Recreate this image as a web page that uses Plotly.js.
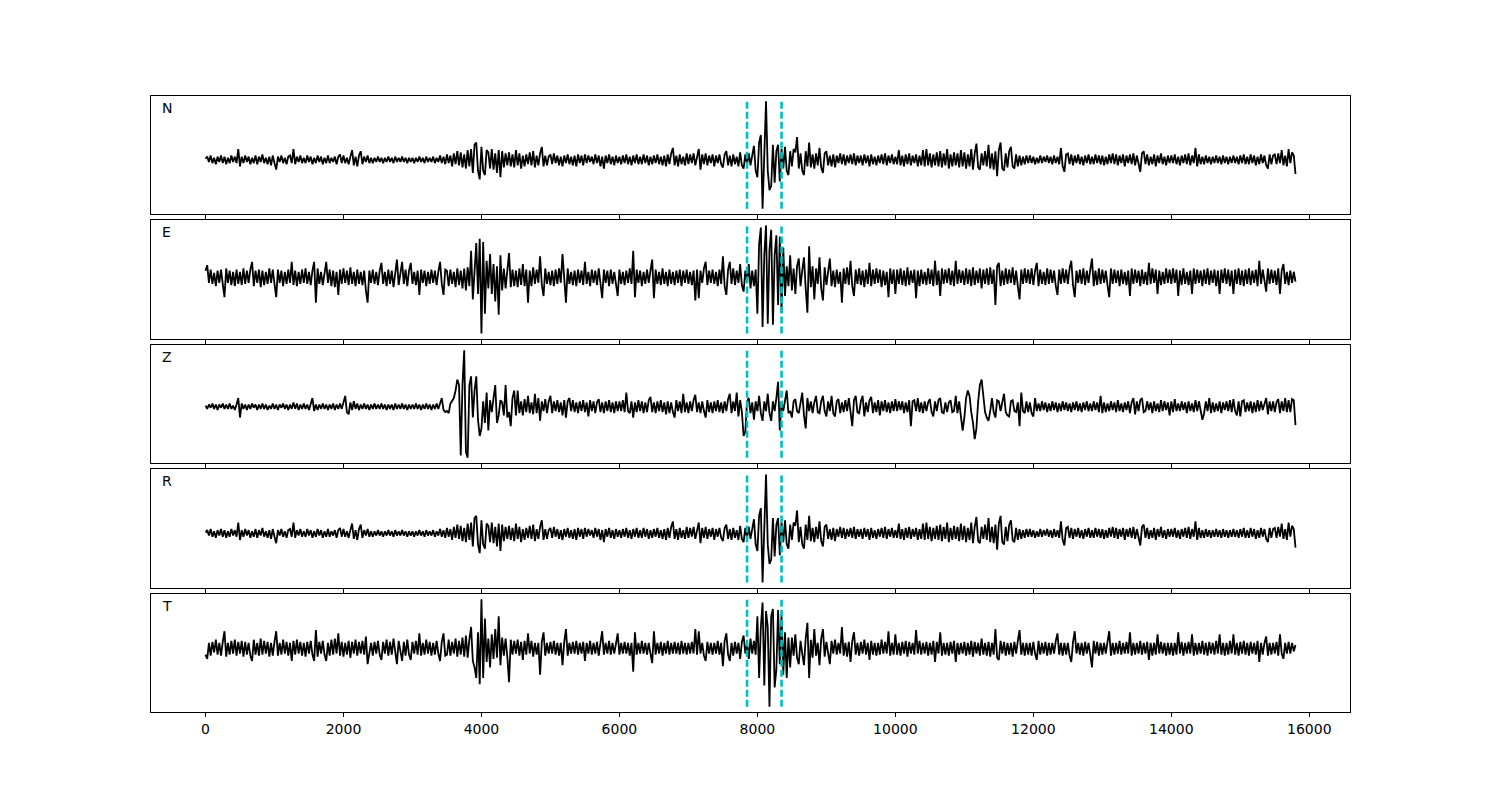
<!DOCTYPE html>
<html>
<head>
<meta charset="utf-8">
<script src="https://cdn.plot.ly/plotly-3.0.1.min.js"></script>
<style>body{margin:0;background:#fff}#chart{width:1500px;height:800px}</style>
</head>
<body>
<div id="chart"></div>
<script>
// sample interval of the traces (time units) and first sample time
const t0 = 0;
const dt = 25;

// component labels (top to bottom)
const components = ["N", "E", "Z", "R", "T"];

// picked arrival times (dashed cyan lines)
const picks = [7850, 8350];

// x-axis tick values
const tickValues = [0, 2000, 4000, 6000, 8000, 10000, 12000, 14000, 16000];

// trace amplitudes (relative units), one value every dt
// (each row = 500 time units)
const traceN = [
 1,3,-2,4,-3,2,-4,3,-2,4,-3,3,-4,2,-3,4,-2,3,-3,10,
 -6,3,-3,4,-2,3,-4,2,-3,4,-4,3,-2,5,-3,2,-4,3,-5,4,
 -3,-9,3,-2,4,-3,2,-4,3,4,-3,10,-4,3,-2,4,-3,2,-3,4,
 -2,3,-4,2,-3,4,-2,3,-4,2,-3,4,-3,2,-2,3,-4,3,5,-3,
 4,-3,2,-4,3,9,-5,3,-6,4,8,-4,3,-2,4,-3,2,-3,2,-2,
 3,-2,2,-3,2,-2,3,-2,2,-3,3,-2,2,-2,3,-2,2,-3,2,-2,
 2,-3,2,-2,3,-2,2,-3,3,-2,2,-2,3,-3,2,-2,4,-3,3,-4,
 5,-3,4,-6,6,-4,8,-5,7,-7,5,-8,9,-6,10,-12,14,16,-10,-18,
 12,-10,-14,9,7,-8,10,-9,6,-12,9,-16,8,-7,6,-5,7,-6,5,-7,
 9,-5,6,-8,4,-6,5,-4,7,-5,8,-7,4,-5,6,12,-6,4,-5,3,
 5,-4,6,-3,4,-5,3,-6,4,-3,5,-4,3,-5,4,-6,5,-3,4,-5,
 5,-3,4,-2,3,-4,5,-3,4,-6,3,-8,4,-3,5,-4,3,-5,4,-3,
 3,-4,4,-3,5,-4,3,-5,4,-3,5,-4,3,-4,5,-3,4,-5,3,-4,
 4,-3,5,-4,3,-5,4,-6,5,-4,6,11,-5,4,-6,5,-4,3,-5,6,
 -4,5,-3,6,-5,4,10,-9,5,-4,6,-5,4,-3,5,-6,4,-3,5,-4,
 -7,5,8,-5,4,-6,5,-4,3,-6,7,-5,-8,5,-4,6,-5,4,13,-10,
 -16,16,23,-45,12,54,-10,-28,-24,14,-21,8,14,-20,10,-8,12,-10,-14,8,
 -6,10,7,21,-8,6,-10,-14,8,-6,16,-7,5,-8,6,-5,11,-7,-12,6,
 8,-5,4,-6,5,-7,4,-3,6,-4,5,-5,4,-3,5,-4,6,-5,4,-3,
 4,-5,5,-3,4,-6,5,-4,3,-5,4,-3,5,-4,6,-5,4,-3,5,-4,
 3,-4,9,-5,4,-6,5,-4,6,-5,4,-3,5,-6,4,-5,9,-6,10,-5,
 6,-7,5,-5,7,-6,8,-7,6,-5,10,-8,5,-6,7,-5,6,-7,9,-6,
 7,-8,5,-6,10,-9,6,15,-7,-9,6,-5,8,-6,14,-8,6,-9,8,-15,
 9,16,-8,-10,6,-7,8,12,-6,-8,5,-6,4,-5,3,-4,4,-3,4,-3,
 3,-4,2,-3,4,-3,3,-2,4,-3,3,-4,4,-3,3,-4,11,-6,-11,5,
 6,-4,5,-5,4,-3,5,-4,3,-5,4,-3,5,-4,3,-4,5,-3,4,-4,
 4,-5,3,-4,5,-3,6,-4,5,-5,4,-3,5,-6,4,-3,5,-4,6,-5,
 4,-5,-11,6,8,-4,5,-5,3,-4,5,-6,4,-3,6,-4,3,-5,4,-3,
 4,-3,5,-4,3,-5,4,-3,5,-4,6,-5,4,-3,11,-6,5,-4,3,-4,
 4,-3,3,-4,3,-3,4,-3,3,-4,4,-3,3,-4,3,-3,4,-3,3,-4,
 4,-3,5,-4,3,-4,5,-3,4,-5,3,-4,5,-3,4,-5,-8,5,-4,4,
 5,-4,6,-3,9,-5,4,-6,10,-3,7,4,-13
];

const traceE = [
 6,11,-5,7,-6,4,-8,6,-5,7,-6,-18,8,-5,6,-7,5,-8,7,-6,
 5,-7,8,-6,6,-5,7,14,-8,6,-5,7,-9,6,-7,5,-6,8,-5,7,
 -6,-18,7,-5,6,-8,5,-6,7,-5,14,-7,6,-8,5,-6,7,-5,8,-6,
 5,-7,6,14,-23,8,-6,5,-7,6,14,-5,7,-8,6,-9,5,-16,7,-6,
 8,-5,6,-7,9,-6,5,-8,7,-6,5,-7,6,-12,-23,6,-5,7,-6,5,
 -7,6,13,-6,5,-8,7,-6,6,-9,6,16,-7,5,14,-6,7,-8,6,13,
 -6,5,-7,6,-16,7,-5,6,-8,5,-6,7,-5,6,-7,5,14,-6,-16,7,
 6,-8,7,-6,5,-9,8,-7,6,-10,8,-12,9,-8,24,-20,12,31,-15,35,
 -51,32,-33,15,-10,21,-15,12,-22,10,-34,20,-12,8,-10,9,22,-9,7,-8,
 6,-9,8,-7,12,-8,7,-23,6,-8,9,-6,7,-5,19,-7,-17,8,-6,5,
 -7,6,-8,7,-6,8,-5,21,-7,-23,8,-6,5,-7,6,-8,7,-5,6,-7,
 14,-6,5,-8,7,-5,6,-7,8,-6,-19,7,-5,6,-8,7,-6,5,-7,-17,
 7,-6,5,-7,6,-5,8,-6,24,-18,7,-5,6,-8,5,-6,7,-5,6,16,
 -19,7,-6,5,-7,8,-6,5,-8,7,-6,5,-7,6,-5,7,-8,6,-5,7,
 -6,5,-7,6,-21,7,-19,6,-5,8,14,-7,6,-5,7,-6,5,-8,7,-6,
 19,-8,-16,7,14,-6,8,-7,6,-5,12,-7,-13,6,-5,12,-10,6,-8,7,
 -33,30,45,-45,20,47,-42,25,43,-43,20,38,-25,37,-32,27,-17,10,-8,20,
 -12,8,-15,10,17,-8,6,18,-10,-32,28,-9,10,-20,8,-6,18,-10,-21,9,
 -7,8,17,-8,6,-9,7,-6,5,-23,8,-6,9,-7,15,-8,-17,7,-6,8,
 -7,6,-9,7,-6,13,-8,7,-6,8,-5,7,-9,6,-7,5,-18,8,-6,7,
 -15,7,-6,8,-7,6,-8,9,-7,6,-5,7,-19,6,-8,7,-6,5,-7,8,
 -6,7,-8,15,-7,6,-17,8,-6,7,-5,8,-7,6,-8,15,-6,7,-5,6,
 -7,8,-6,7,-8,9,-7,6,-5,8,-10,7,-6,8,-7,9,-6,7,-25,10,
 13,-8,6,-7,8,-6,7,-5,9,-7,6,-8,-20,7,-6,8,-5,7,-6,8,
 -7,6,13,-8,7,-6,5,-7,8,-6,7,-5,6,-8,-16,7,-6,8,-5,7,
 -6,8,15,-7,-18,6,-5,7,-6,8,-7,6,-5,7,17,-8,6,-7,8,-6,
 7,-5,6,-7,-18,8,-6,7,-5,6,-8,7,-6,5,-7,6,-17,8,-6,7,
 -5,6,-8,7,-6,5,-7,13,-6,8,-5,7,-15,6,-7,5,-6,8,-5,7,
 -6,8,-5,7,-17,6,-7,8,-6,5,-7,6,-15,8,-6,7,-5,6,-8,7,
 -6,8,-7,6,-5,7,-8,6,-15,7,-5,8,-6,7,-8,6,-15,7,-6,8,
 -7,6,-8,7,-6,8,-7,6,-5,7,-8,15,-6,7,-5,-13,8,-6,7,-5,
 6,-7,8,-15,6,12,-6,5,-7,6,-5,5,-4
];

const traceZ = [
 1,-2,2,-1,3,-2,2,-3,2,-1,3,-2,2,-2,3,-2,1,-3,2,8,
 -10,3,-2,2,-3,2,-2,3,-1,2,-3,2,-2,3,-2,2,-3,1,-2,3,
 -2,2,-3,2,-1,3,-2,2,-3,2,-2,4,-2,3,-3,2,-2,3,-2,2,
 -3,3,8,-4,2,-3,2,-2,3,-2,2,-3,2,-2,3,-3,2,-2,3,-2,
 4,10,-5,-7,4,-3,5,-2,3,-3,2,-2,3,-2,2,-3,2,-2,3,-2,
 2,-2,3,-2,2,-3,2,-2,2,-3,3,-2,2,-2,3,-2,2,-3,2,-2,
 2,-2,3,-2,2,-3,2,-2,3,-2,2,-3,2,-2,3,-2,3,8,-3,-5,
 -4,-6,3,6,8,15,25,20,-45,20,52,-42,-47,20,28,-10,15,28,-12,-27,
 -20,5,-15,13,-22,6,-5,8,20,-15,-8,6,4,-8,20,-10,-5,-18,8,15,
 -8,15,-6,5,-8,7,-5,10,-6,4,-7,12,-6,8,-13,5,-4,7,-6,5,
 10,-6,5,-4,6,-5,4,-8,6,-10,5,8,-4,6,-5,4,-6,5,-4,6,
 -5,4,-9,6,-4,5,-6,4,7,-5,4,-6,5,-4,6,-5,4,-6,5,-4,
 5,-4,6,-5,13,-4,-6,5,-10,4,-5,6,-4,5,-6,4,-5,6,9,-5,
 4,-6,5,-4,6,-5,4,-7,5,-6,4,-5,-10,6,-4,5,-6,12,-5,4,
 -6,5,-4,6,11,-5,4,-6,5,-4,-10,6,-5,4,-6,5,-4,6,-5,4,
 -6,5,-4,7,12,-6,5,-4,13,-9,6,-5,-27,-23,5,8,-6,4,-12,5,
 -4,10,-6,-13,5,-4,12,-6,-13,5,-4,8,23,-22,5,-4,8,15,-6,-4,
 -10,5,7,-4,-6,5,13,-8,-20,8,-4,5,-6,4,10,-5,-6,5,10,-4,
 -9,5,-4,10,-6,-9,5,7,-6,4,-5,6,-4,8,-5,-18,6,10,-5,-6,
 5,10,-9,4,-5,6,9,-6,4,-5,6,-8,5,-4,6,-5,4,-6,5,-4,
 7,-4,5,-3,5,-6,4,-5,6,-18,5,6,-4,8,-5,4,-6,5,-4,4,
 7,-5,-9,5,-4,6,8,-5,-6,4,-5,4,6,-5,-4,10,-6,5,-9,-22,
 -10,8,15,10,-5,-15,-30,-20,5,20,25,10,-5,-10,-13,-4,8,-5,-10,6,
 5,-4,6,12,-5,-8,-9,5,6,-4,-5,4,-18,13,-4,-6,5,-5,4,-6,
 -9,8,-4,3,-4,5,-3,4,-5,3,-4,5,-3,4,-5,3,-4,5,-3,4,
 -4,3,-5,4,-3,5,-4,3,-5,4,-3,5,-4,3,-4,5,-3,4,-5,10,
 -6,4,-5,3,-4,5,-3,4,-5,6,-4,3,-5,4,-3,5,-6,4,8,-7,
 5,-4,6,8,-5,-4,5,-3,4,-6,5,-4,3,-5,6,-4,5,-3,4,-8,
 5,-5,7,-4,3,-4,5,-3,4,-6,5,-4,3,-5,6,-4,5,-3,-12,-6,
 5,-4,8,-6,4,-5,3,-4,5,-6,4,-3,5,-4,6,-5,7,-4,-8,5,
 -9,5,6,-5,4,-4,5,-6,4,-5,6,-4,5,-3,4,8,-7,5,-4,5,
 -5,4,7,-6,5,-4,8,-5,6,-5,7,6,-17
];

const traceR = [
 1,3,-2,4,-3,2,-4,3,-2,4,-3,3,-4,2,-3,4,-2,3,-3,10,
 -6,3,-3,4,-2,3,-4,2,-3,4,-4,3,-2,5,-3,2,-4,3,-5,4,
 -3,-9,3,-2,4,-3,2,-4,3,4,-3,10,-4,3,-2,4,-3,2,-3,4,
 -2,3,-4,2,-3,4,-2,3,-4,2,-3,4,-3,2,-2,3,-4,3,5,-3,
 4,-3,2,-4,3,9,-5,3,-6,4,8,-4,3,-2,4,-3,2,-3,2,-2,
 3,-2,2,-3,2,-2,3,-2,2,-3,3,-2,2,-2,3,-2,2,-3,2,-2,
 2,-3,2,-2,3,-2,2,-3,3,-2,2,-2,3,-3,2,-2,4,-3,3,-4,
 5,-3,4,-6,6,-4,8,-5,7,-7,5,-8,9,-6,10,-12,14,16,-10,-18,
 12,-10,-14,9,7,-8,10,-9,6,-12,9,-16,8,-7,6,-5,7,-6,5,-7,
 9,-5,6,-8,4,-6,5,-4,7,-5,8,-7,4,-5,6,12,-6,4,-5,3,
 5,-4,6,-3,4,-5,3,-6,4,-3,5,-4,3,-5,4,-6,5,-3,4,-5,
 5,-3,4,-2,3,-4,5,-3,4,-6,3,-8,4,-3,5,-4,3,-5,4,-3,
 3,-4,4,-3,5,-4,3,-5,4,-3,5,-4,3,-4,5,-3,4,-5,3,-4,
 4,-3,5,-4,3,-5,4,-6,5,-4,6,11,-5,4,-6,5,-4,3,-5,6,
 -4,5,-3,6,-5,4,10,-9,5,-4,6,-5,4,-3,5,-6,4,-3,5,-4,
 -7,5,8,-5,4,-6,5,-4,3,-6,7,-5,-8,5,-4,6,-5,4,13,-10,
 -16,16,23,-45,12,54,-10,-28,-24,14,-21,8,14,-20,10,-8,12,-10,-14,8,
 -6,10,7,21,-8,6,-10,-14,8,-6,16,-7,5,-8,6,-5,11,-7,-12,6,
 8,-5,4,-6,5,-7,4,-3,6,-4,5,-5,4,-3,5,-4,6,-5,4,-3,
 4,-5,5,-3,4,-6,5,-4,3,-5,4,-3,5,-4,6,-5,4,-3,5,-4,
 3,-4,9,-5,4,-6,5,-4,6,-5,4,-3,5,-6,4,-5,9,-6,10,-5,
 6,-7,5,-5,7,-6,8,-7,6,-5,10,-8,5,-6,7,-5,6,-7,9,-6,
 7,-8,5,-6,10,-9,6,15,-7,-9,6,-5,8,-6,14,-8,6,-9,8,-15,
 9,16,-8,-10,6,-7,8,12,-6,-8,5,-6,4,-5,3,-4,4,-3,4,-3,
 3,-4,2,-3,4,-3,3,-2,4,-3,3,-4,4,-3,3,-4,11,-6,-11,5,
 6,-4,5,-5,4,-3,5,-4,3,-5,4,-3,5,-4,3,-4,5,-3,4,-4,
 4,-5,3,-4,5,-3,6,-4,5,-5,4,-3,5,-6,4,-3,5,-4,6,-5,
 4,-5,-11,6,8,-4,5,-5,3,-4,5,-6,4,-3,6,-4,3,-5,4,-3,
 4,-3,5,-4,3,-5,4,-3,5,-4,6,-5,4,-3,11,-6,5,-4,3,-4,
 4,-3,3,-4,3,-3,4,-3,3,-4,4,-3,3,-4,3,-3,4,-3,3,-4,
 4,-3,5,-4,3,-4,5,-3,4,-5,3,-4,5,-3,4,-5,-8,5,-4,4,
 5,-4,6,-3,9,-5,4,-6,10,-3,7,4,-13
];

const traceT = [
 -6,-10,5,-7,6,-4,8,-6,5,-7,6,16,-8,5,-6,7,-5,8,-7,6,
 -5,7,-8,6,-6,5,-7,-12,8,-6,5,-7,9,-6,7,-5,6,-8,5,-7,
 6,16,-7,5,-6,8,-5,6,-7,5,-12,7,-6,8,-5,6,-7,5,-8,6,
 -5,7,-6,-12,17,-8,6,-5,7,-6,-12,5,-7,8,-6,9,-5,14,-7,6,
 -8,5,-6,7,-9,6,-5,8,-7,6,-5,7,-6,11,-15,-6,5,-7,6,-5,
 7,-6,-11,6,-5,8,-7,6,-6,9,-6,-15,7,-5,-12,6,-7,8,-6,-11,
 6,-5,7,-6,14,-7,5,-6,8,-5,6,-7,5,-6,7,-5,-12,6,14,-7,
 -6,8,-7,6,-5,9,-8,7,-6,10,-8,12,-9,8,20,-12,-18,-28,15,-34,
 46,-28,28,-13,9,-18,13,-10,18,-9,30,-16,10,-7,9,-8,-32,8,-6,7,
 -5,8,-7,6,-11,7,-6,14,-5,7,-8,5,-6,5,-25,6,15,-7,5,-5,
 6,-5,7,-6,5,-7,5,-16,6,18,-7,5,-5,6,-5,7,-6,5,-5,6,
 -12,5,-5,7,-6,5,-5,6,-7,5,16,-6,5,-5,7,-6,5,-5,6,14,
 -6,5,-5,6,-5,5,-7,5,-22,15,-6,5,-5,7,-5,5,-6,5,-5,-14,
 16,-6,5,-5,6,-7,5,-5,7,-6,5,-5,6,-5,5,-6,7,-5,5,-6,
 5,-5,6,-5,18,-6,16,-5,5,-7,-12,6,-5,5,-6,5,-5,7,-6,5,
 -17,7,14,-6,-12,5,-7,6,-5,5,-10,6,12,-5,5,-10,9,-5,7,-6,
 30,-28,20,43,-35,35,20,-55,30,37,-37,-20,36,-15,32,-25,15,-28,10,-18,
 10,-7,13,-9,-15,7,-5,-16,9,24,-28,8,-9,18,-7,5,-16,9,18,-8,
 6,-7,-15,7,-5,8,-6,5,-5,20,-7,5,-8,6,-13,7,15,-6,5,-7,
 6,-5,8,-6,5,-11,7,-6,5,-7,5,-6,8,-5,6,-5,16,-7,5,-6,
 13,-6,5,-7,6,-5,7,-8,6,-5,5,-6,17,-5,7,-6,5,-5,6,-7,
 5,-6,7,-13,6,-5,15,-7,5,-6,5,-7,6,-5,7,-13,5,-6,5,-5,
 6,-7,5,-6,7,-8,6,-5,5,-7,9,-6,5,-7,6,-8,5,-6,18,-9,
 -11,7,-5,6,-7,5,-6,5,-8,6,-5,7,17,-6,5,-7,5,-6,5,-7,
 6,-5,-11,7,-6,5,-5,6,-7,5,-6,5,-5,7,14,-6,5,-7,5,-6,
 5,-7,-13,6,16,-5,5,-6,5,-7,6,-5,5,-6,-18,7,-5,6,-7,5,
 -6,5,-5,6,16,-7,5,-6,5,-5,7,-6,5,-5,6,-5,15,-7,5,-6,
 5,-5,7,-6,5,-5,6,-11,5,-7,5,-6,13,-5,6,-5,5,-7,5,-6,
 5,-7,5,-6,15,-5,6,-7,5,-5,6,-5,13,-7,5,-6,5,-5,7,-6,
 5,-7,6,-5,5,-6,7,-5,13,-6,5,-7,5,-6,7,-5,13,-6,5,-7,
 6,-5,7,-6,5,-7,6,-5,5,-6,7,-13,5,-6,5,11,-7,5,-6,5,
 -5,6,-7,13,-5,-10,5,-5,6,-5,5,-3,3
];

const traces = [traceN, traceE, traceZ, traceR, traceT];

// ---- build figure ----
const FONT = "DejaVu Sans, Liberation Sans, sans-serif";
// panel pixel boxes: plot area y from 96 to 712 (height 616)
const panelTops = [96, 220, 345, 469, 594];
const panelBottoms = [214, 339, 463, 588, 712];
const plotTop = 96, plotBottom = 712, plotH = plotBottom - plotTop;

const data = [];
const shapes = [];
const annotations = [];
const layout = {
  width: 1500, height: 800,
  margin: {l: 151, r: 150, t: 96, b: 88, pad: 0},
  paper_bgcolor: "#ffffff", plot_bgcolor: "#ffffff",
  showlegend: false,
  font: {family: FONT, size: 14, color: "#000"}
};

const n = traces.length;
const xmin = -790, xmax = 16590;

traces.forEach((vals, k) => {
  const idx = k + 1;
  const xa = "x" + (idx === 1 ? "" : idx);
  const ya = "y" + (idx === 1 ? "" : idx);
  const times = vals.map((_, i) => t0 + i * dt);
  data.push({
    type: "scatter", mode: "lines", x: times, y: vals,
    xaxis: xa, yaxis: ya,
    line: {color: "#000000", width: 1.8},
    hoverinfo: "skip"
  });
  const vmin = Math.min(...vals), vmax = Math.max(...vals);
  const pad = 0.05 * (vmax - vmin);
  const dom = [(plotBottom - panelBottoms[k]) / plotH, (plotBottom - panelTops[k]) / plotH];
  layout["xaxis" + (idx === 1 ? "" : idx)] = {
    domain: [0, 1], anchor: ya, range: [xmin, xmax],
    tickmode: "array", tickvals: tickValues,
    ticktext: tickValues.map(String),
    ticks: "outside", ticklen: 4, tickwidth: 1, tickcolor: "#000",
    showticklabels: idx === n,
    tickfont: {family: FONT, size: 14, color: "#000"},
    showline: true, mirror: true, linecolor: "#000", linewidth: 1,
    showgrid: false, zeroline: false, fixedrange: true
  };
  layout["yaxis" + (idx === 1 ? "" : idx)] = {
    domain: dom, anchor: xa, range: [vmin - pad, vmax + pad],
    ticks: "", showticklabels: false,
    showline: true, mirror: true, linecolor: "#000", linewidth: 1,
    showgrid: false, zeroline: false, fixedrange: true
  };
  picks.forEach(p => {
    shapes.push({
      type: "line", xref: xa, yref: ya,
      x0: p, x1: p, y0: vmin, y1: vmax,
      line: {color: "#00bfbf", width: 2.6, dash: "7px,3px"}
    });
  });
  annotations.push({
    text: components[k], showarrow: false,
    xref: xa + " domain", yref: ya + " domain",
    x: 0.0075, y: 0.9, xanchor: "left", yanchor: "middle",
    font: {family: FONT, size: 14, color: "#000"}
  });
});

layout.shapes = shapes;
layout.annotations = annotations;

Plotly.newPlot("chart", data, layout, {displayModeBar: false, staticPlot: true});
</script>
</body>
</html>
